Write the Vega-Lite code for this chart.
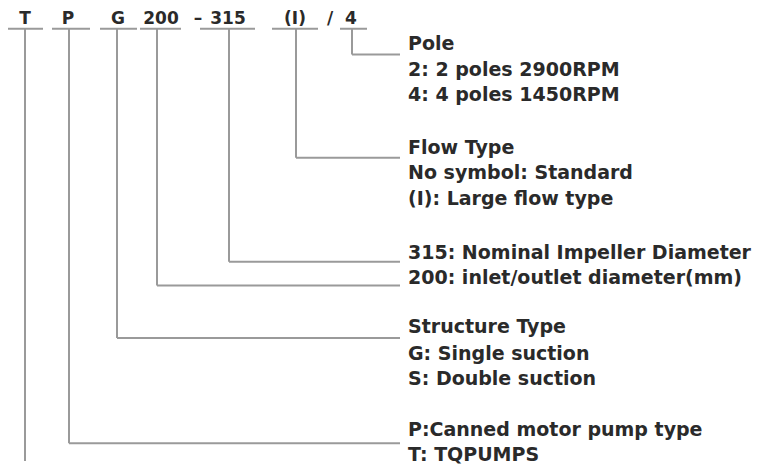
{
  "$schema": "https://vega.github.io/schema/vega-lite/v6.json",
  "width": 760,
  "height": 465,
  "autosize": {"type": "fit", "contains": "padding"},
  "padding": 0,
  "background": "white",
  "config": {"view": {"stroke": null}},
  "datasets": {
    "segs": [
      {"x": 8, "y": 29, "x2": 43, "y2": 29},
      {"x": 52, "y": 29, "x2": 90, "y2": 29},
      {"x": 100, "y": 29, "x2": 137, "y2": 29},
      {"x": 140, "y": 29, "x2": 181, "y2": 29},
      {"x": 200, "y": 29, "x2": 255, "y2": 29},
      {"x": 272, "y": 29, "x2": 318, "y2": 29},
      {"x": 340, "y": 29, "x2": 367, "y2": 29},
      {"x": 25, "y": 29, "x2": 25, "y2": 465},
      {"x": 69, "y": 29, "x2": 69, "y2": 447},
      {"x": 117, "y": 29, "x2": 117, "y2": 341},
      {"x": 157, "y": 29, "x2": 157, "y2": 288},
      {"x": 229, "y": 29, "x2": 229, "y2": 264},
      {"x": 296, "y": 29, "x2": 296, "y2": 159},
      {"x": 352, "y": 29, "x2": 352, "y2": 55},
      {"x": 69, "y": 447, "x2": 400, "y2": 447},
      {"x": 117, "y": 341, "x2": 400, "y2": 341},
      {"x": 157, "y": 288, "x2": 400, "y2": 288},
      {"x": 229, "y": 264, "x2": 400, "y2": 264},
      {"x": 296, "y": 159, "x2": 400, "y2": 159},
      {"x": 352, "y": 55, "x2": 400, "y2": 55}
    ],
    "codes": [
      {"x": 25, "y": 24, "t": "T"},
      {"x": 68, "y": 24, "t": "P"},
      {"x": 118, "y": 24, "t": "G"},
      {"x": 161, "y": 24, "t": "200"},
      {"x": 198, "y": 24, "t": "–"},
      {"x": 228, "y": 24, "t": "315"},
      {"x": 295, "y": 24, "t": "(I)"},
      {"x": 330, "y": 24, "t": "/"},
      {"x": 351, "y": 24, "t": "4"}
    ],
    "notes": [
      {"x": 408, "y": 50, "t": "Pole"},
      {"x": 408, "y": 77, "t": "2: 2 poles 2900RPM"},
      {"x": 408, "y": 102, "t": "4: 4 poles 1450RPM"},
      {"x": 408, "y": 155, "t": "Flow Type"},
      {"x": 408, "y": 181, "t": "No symbol: Standard"},
      {"x": 408, "y": 207, "t": "(I): Large flow type"},
      {"x": 408, "y": 261, "t": "315: Nominal Impeller Diameter"},
      {"x": 408, "y": 286, "t": "200: inlet/outlet diameter(mm)"},
      {"x": 408, "y": 336, "t": "Structure Type"},
      {"x": 408, "y": 363, "t": "G: Single suction"},
      {"x": 408, "y": 388, "t": "S: Double suction"},
      {"x": 408, "y": 440, "t": "P:Canned motor pump type"},
      {"x": 408, "y": 465, "t": "T: TQPUMPS"}
    ]
  },
  "layer": [
    {
      "data": {"name": "segs"},
      "mark": {"type": "rule", "color": "#9a9a9a", "strokeWidth": 2},
      "encoding": {
        "x": {"field": "x", "type": "quantitative", "scale": {"domain": [0, 760], "nice": false, "zero": false}, "axis": null},
        "y": {"field": "y", "type": "quantitative", "scale": {"domain": [465, 0], "nice": false, "zero": false}, "axis": null},
        "x2": {"field": "x2"},
        "y2": {"field": "y2"}
      }
    },
    {
      "data": {"name": "codes"},
      "mark": {"type": "text", "font": "DejaVu Sans", "fontWeight": "bold", "fontSize": 17, "color": "#2a2a2a", "align": "center", "baseline": "alphabetic"},
      "encoding": {
        "x": {"field": "x", "type": "quantitative", "scale": {"domain": [0, 760], "nice": false, "zero": false}, "axis": null},
        "y": {"field": "y", "type": "quantitative", "scale": {"domain": [465, 0], "nice": false, "zero": false}, "axis": null},
        "text": {"field": "t"}
      }
    },
    {
      "data": {"name": "notes"},
      "mark": {"type": "text", "font": "DejaVu Sans", "fontWeight": "bold", "fontSize": 19, "color": "#2a2a2a", "align": "left", "baseline": "alphabetic"},
      "encoding": {
        "x": {"field": "x", "type": "quantitative", "scale": {"domain": [0, 760], "nice": false, "zero": false}, "axis": null},
        "y": {"field": "y", "type": "quantitative", "scale": {"domain": [465, 0], "nice": false, "zero": false}, "axis": null},
        "text": {"field": "t"}
      }
    }
  ]
}
